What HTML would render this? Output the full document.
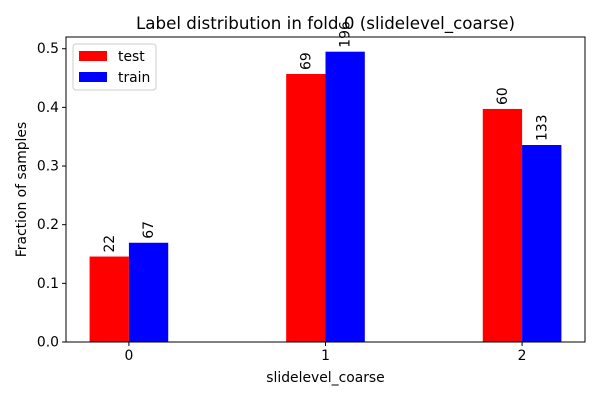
<!DOCTYPE html>
<html><head><meta charset="utf-8"><style>
body{margin:0;background:#fff;font-family:"Liberation Sans","DejaVu Sans",sans-serif}
</style></head><body>
<svg width="600" height="400" xmlns="http://www.w3.org/2000/svg" font-family="DejaVu Sans, Liberation Sans, sans-serif">
<text x="325.5" y="29" font-size="16.7" text-anchor="middle">Label distribution in fold 0 (slidelevel_coarse)</text>
<g id="bars"></g>
<g id="axes"></g>
<rect x="66" y="37" width="519" height="305" fill="none" stroke="#000" stroke-width="1"/>
<text x="325.5" y="382" font-size="13.9" text-anchor="middle">slidelevel_coarse</text>
<text transform="translate(26,189.5) rotate(-90)" font-size="13.9" text-anchor="middle">Fraction of samples</text>
<g>
<rect x="73" y="44" width="83" height="46" fill="#fff" fill-opacity="0.8" stroke="#ccc" rx="3"/>
<rect x="79" y="51" width="28" height="10" fill="red"/>
<text x="118" y="61" font-size="13.9">test</text>
<rect x="79" y="72" width="28" height="10" fill="blue"/>
<text x="118" y="82" font-size="13.9">train</text>
</g>
</svg>
<script>
const categories=["0","1","2"];
const testCounts=[22,69,60];
const trainCounts=[67,196,133];
const yTicks=[0,0.1,0.2,0.3,0.4,0.5];
const ns="http://www.w3.org/2000/svg";
const X0=66,X1=585,Y0=342,Y1=37;
const xmin=-0.32,xmax=2.32,ymin=0,ymax=0.52;
const xs=v=>X0+(v-xmin)/(xmax-xmin)*(X1-X0);
const ys=v=>Y0-(v-ymin)/(ymax-ymin)*(Y0-Y1);
const bars=document.getElementById('bars'),axes=document.getElementById('axes');
function mk(t,a,p){const e=document.createElementNS(ns,t);for(const k in a)e.setAttribute(k,a[k]);p.appendChild(e);return e;}
const sum=a=>a.reduce((s,v)=>s+v,0);
const series=[{n:'test',c:testCounts,col:'red',off:-0.1},{n:'train',c:trainCounts,col:'blue',off:0.1}];
const bw=0.2;
series.forEach(s=>{const tot=sum(s.c);s.c.forEach((cnt,i)=>{
 const f=cnt/tot;const x=xs(i+s.off-bw/2),w=xs(i+s.off+bw/2)-x;
 const r=mk('rect',{x:x,y:ys(f),width:w,height:ys(0)-ys(f),fill:s.col},bars);
 
 
 const cx=xs(i+s.off),ty=ys(f)-4;
 const t=mk('text',{transform:`translate(${cx+4.5},${ty}) rotate(-90)`,'font-size':'13.9'},bars);
 t.textContent=cnt;
 
 
});});
categories.forEach((c,i)=>{const x=xs(i);
 mk('line',{x1:x,x2:x,y1:Y0,y2:Y0+4,stroke:'#000'},axes);
 const t=mk('text',{x:x,y:Y0+18,'font-size':'13.9','text-anchor':'middle'},axes);t.textContent=c;
 
 });
yTicks.forEach(v=>{const y=ys(v);
 mk('line',{x1:X0-4,x2:X0,y1:y,y2:y,stroke:'#000'},axes);
 const t=mk('text',{x:X0-7,y:y+4.5,'font-size':'13.9','text-anchor':'end'},axes);t.textContent=v.toFixed(1);
 
 });
</script>
</body></html>
